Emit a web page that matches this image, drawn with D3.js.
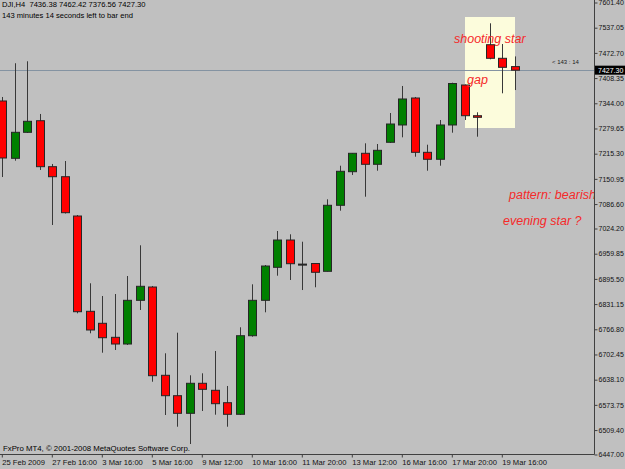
<!DOCTYPE html>
<html>
<head>
<meta charset="utf-8">
<script src="https://cdnjs.cloudflare.com/ajax/libs/d3/7.8.5/d3.min.js"></script>
<style>
body{margin:0;background:#c0c0c0;}
svg{display:block;}
text{font-family:"Liberation Sans",Arial,sans-serif;}
</style>
</head>
<body>
<div id="chart"></div>
<script>
// DJI H4 bars (last bar from the header)
var openP  = [7348.6,7202.2,7268.6,7298.2,7180.8,7155.2,7054.8,6811.4,6780.8,6745.0,
              6727.9,6839.5,6873.5,6648.0,6595.9,6550.9,6627.6,6609.7,6578.0,6548.4,
              6749.1,6839.5,6923.8,6993.5,6932.0,6933.5,6913.6,7082.2,7168.0,7215.0,
              7186.9,7243.1,7287.3,7356.2,7217.5,7199.7,7287.3,7389.4,7311.0,7492.3,
              7457.6,7436.38];
var highP  = [7358.8,7445.0,7450.0,7315.4,7187.7,7195.3,7057.4,6883.0,6850.5,6855.6,
              6901.6,6980.0,6876.1,6704.2,6756.8,6648.0,6653.1,6710.1,6620.7,6770.6,
              6880.4,6929.7,7016.5,7008.1,6989.2,6934.0,7097.5,7183.3,7215.7,7240.5,
              7238.7,7317.9,7386.9,7358.8,7236.9,7300.0,7395.3,7390.7,7319.7,7547.0,
              7494.1,7462.42];
var lowP   = [7154.4,7196.1,7266.8,7172.3,7031.9,7061.2,6806.3,6755.3,6705.7,6712.6,
              6725.4,6814.8,6631.6,6546.6,6516.7,6472.5,6556.8,6547.4,6516.7,6546.6,
              6746.6,6808.9,6902.4,6891.4,6865.8,6872.8,6913.0,7068.4,7159.6,7104.1,
              7170.5,7241.3,7255.8,7206.3,7170.5,7183.3,7267.6,7300.0,7257.4,7455.1,
              7368.2,7376.56];
var closeP = [7203.0,7268.6,7296.7,7180.8,7155.2,7063.3,6810.4,6763.7,6744.0,6727.9,
              6839.5,6875.3,6647.0,6595.9,6550.9,6627.6,6612.2,6575.5,6548.4,6749.1,
              6839.5,6927.1,6993.5,6933.0,6932.0,6911.1,7082.2,7169.0,7215.0,7186.9,
              7222.6,7289.8,7353.7,7217.5,7199.7,7287.3,7393.2,7311.0,7306.9,7457.6,
              7434.6,7427.30];

var priceTicks = [7601.40,7537.05,7472.70,7408.35,7344.00,7279.65,7215.30,7150.95,
                  7086.60,7024.20,6959.85,6895.50,6831.15,6766.80,6702.45,6638.10,
                  6573.75,6509.40,6447.00];
var timeIdx    = [0,4,8,12,16,20,24,28,32,36,40];
var timeLabels = ["25 Feb 2009","27 Feb 16:00","3 Mar 16:00","5 Mar 16:00","9 Mar 12:00",
                  "10 Mar 16:00","11 Mar 20:00","13 Mar 12:00","16 Mar 16:00",
                  "17 Mar 20:00","19 Mar 16:00"];

var lastPrice = 7427.30;

function init(){
    var w = 625;
    var h = 469;
    var plotR = 594;   // right border of the chart area
    var plotB = 454;   // bottom border

    var svg = d3.select("#chart")
                .append("svg")
                .attr("width", w)
                .attr("height", h);

    var xScale = d3.scaleBand()
                .domain(d3.range(openP.length))
                .range([-3.95, -3.95 + 12.5 * openP.length]);

    var yScale = d3.scaleLinear()
                .domain([6447.00, 7601.40])
                .range([plotB, 2]);

    function cx(i){
        return Math.round(xScale(i) + xScale.bandwidth() / 2) + 0.5;
    }

    svg.append("clipPath")
        .attr("id", "plot")
        .append("rect")
        .attr("x", 0).attr("y", 0)
        .attr("width", plotR).attr("height", plotB);

    var plot = svg.append("g").attr("clip-path", "url(#plot)");

    // highlighted box behind the last few bars
    plot.append("rect")
        .attr("x", 465)
        .attr("y", 17)
        .attr("width", 50)
        .attr("height", 111)
        .attr("fill", "#fcfcdc");

    // current price line
    plot.append("line")
        .attr("x1", 0).attr("x2", plotR)
        .attr("y1", Math.round(yScale(lastPrice)) + 0.5)
        .attr("y2", Math.round(yScale(lastPrice)) + 0.5)
        .attr("stroke", "#8493a2")
        .attr("stroke-width", 1);

    var idx = d3.range(openP.length);

    //wicks
    plot.selectAll("line.wick")
        .data(idx)
        .enter()
        .append("line")
        .attr("class", "wick")
        .attr("x1", cx).attr("x2", cx)
        .attr("y1", function(i){ return yScale(highP[i]); })
        .attr("y2", function(i){ return yScale(lowP[i]); })
        .attr("stroke", "#383838")
        .attr("stroke-width", 1);

    //bodies
    plot.selectAll("rect.body")
        .data(idx)
        .enter()
        .append("rect")
        .attr("class", "body")
        .attr("x", function(i){ return cx(i) - 4; })
        .attr("y", function(i){ return yScale(Math.max(openP[i], closeP[i])); })
        .attr("width", 8)
        .attr("height", function(i){
            return Math.max(1, Math.abs(yScale(openP[i]) - yScale(closeP[i])));
        })
        .attr("fill", function(i){
            if (closeP[i] > openP[i]) return "#008000";
            if (closeP[i] < openP[i]) return "#ff0000";
            return "#202020";
        })
        .attr("stroke", "#262626")
        .attr("stroke-width", 1);

    // annotations
    var notes = [
        {t: "shooting star", x: 454, y: 43},
        {t: "gap", x: 467, y: 84},
        {t: "pattern: bearish", x: 509, y: 199},
        {t: "evening star ?", x: 503, y: 225}
    ];
    plot.selectAll("text.note")
        .data(notes)
        .enter()
        .append("text")
        .attr("class", "note")
        .attr("x", function(d){ return d.x; })
        .attr("y", function(d){ return d.y; })
        .attr("fill", "#f52a2a")
        .attr("font-size", "12.5px")
        .attr("font-style", "italic")
        .text(function(d){ return d.t; });

    // borders
    svg.append("line")
        .attr("x1", plotR + 0.5).attr("x2", plotR + 0.5)
        .attr("y1", 0).attr("y2", plotB + 0.5)
        .attr("stroke", "#404040");
    svg.append("line")
        .attr("x1", 0).attr("x2", plotR + 0.5)
        .attr("y1", plotB + 0.5).attr("y2", plotB + 0.5)
        .attr("stroke", "#404040");

    //price axis
    var yAxis = svg.append("g")
        .attr("transform", "translate(" + (plotR + 0.5) + ",0.5)")
        .call(d3.axisRight(yScale)
            .tickValues(priceTicks)
            .tickSize(3)
            .tickPadding(1)
            .tickFormat(d3.format(".2f")));
    yAxis.select(".domain").remove();
    yAxis.selectAll("line").attr("stroke", "#404040");
    yAxis.selectAll("text")
        .attr("fill", "#111")
        .attr("font-size", "7px")
        .attr("font-family", "Liberation Sans, Arial, sans-serif");

    //time axis
    var xAxis = svg.append("g")
        .attr("transform", "translate(0," + (plotB + 0.5) + ")")
        .call(d3.axisBottom(xScale)
            .tickValues(timeIdx)
            .tickSize(3)
            .tickFormat(function(d, i){ return timeLabels[i]; }));
    xAxis.select(".domain").remove();
    xAxis.selectAll("line").attr("stroke", "#404040");
    xAxis.selectAll("text")
        .attr("text-anchor", "start")
        .attr("x", 0)
        .attr("y", 10)
        .attr("dy", 0)
        .attr("fill", "#111")
        .attr("font-size", "7.6px")
        .attr("font-family", "Liberation Sans, Arial, sans-serif");

    // last price tag
    var ly = yScale(lastPrice);
    svg.append("rect")
        .attr("x", 595).attr("y", ly - 4.5)
        .attr("width", 30).attr("height", 9)
        .attr("fill", "#000");
    svg.append("text")
        .attr("x", 598).attr("y", ly + 2.5)
        .attr("fill", "#fff")
        .attr("font-size", "7px")
        .text(d3.format(".2f")(lastPrice));

    svg.append("text")
        .attr("x", 552).attr("y", ly - 6.5)
        .attr("fill", "#202020")
        .attr("font-size", "6px")
        .attr("font-family", "DejaVu Sans Mono, monospace")
        .attr("xml:space", "preserve")
        .text("< 143 : 14");

    // header and footer
    svg.append("text")
        .attr("x", 2).attr("y", 7)
        .attr("fill", "#000")
        .attr("font-size", "7.6px")
        .attr("xml:space", "preserve")
        .text("DJI,H4  7436.38 7462.42 7376.56 7427.30");
    svg.append("text")
        .attr("x", 2).attr("y", 18)
        .attr("fill", "#000")
        .attr("font-size", "7.6px")
        .text("143 minutes 14 seconds left to bar end");
    svg.append("text")
        .attr("x", 3).attr("y", 451)
        .attr("fill", "#000")
        .attr("font-size", "7.8px")
        .text("FxPro MT4, \u00a9 2001-2008 MetaQuotes Software Corp.");
}
window.onload = init;
</script>
</body>
</html>
